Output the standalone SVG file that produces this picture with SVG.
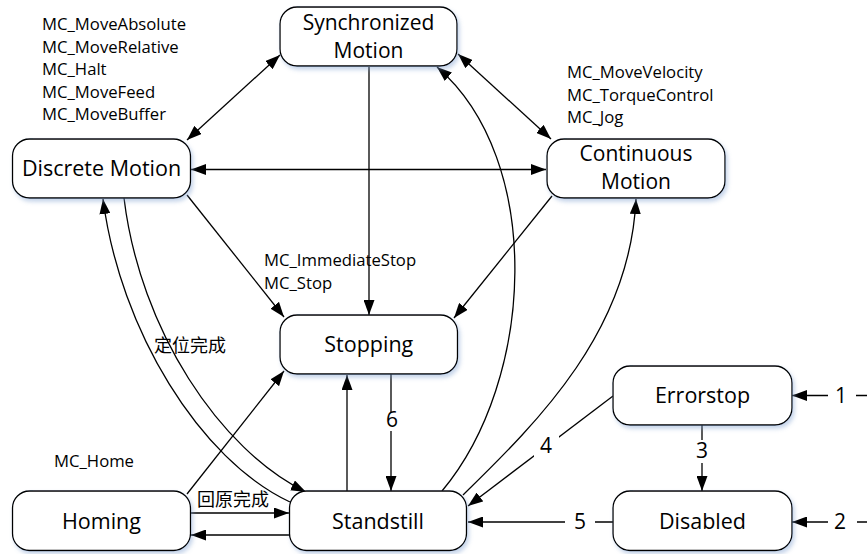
<svg xmlns="http://www.w3.org/2000/svg" width="867" height="554" viewBox="0 0 867 554">
<style>
.node rect{fill:#fff;stroke:#000;stroke-width:1.3;filter:url(#sh)}
.nt{font-family:"Open Sans","Noto Sans",sans-serif;font-size:21.5px;fill:#000;text-anchor:middle}
.nt2{font-size:21px}
.lb{font-family:"Open Sans","Noto Sans",sans-serif;font-size:16.7px;fill:#000}
.cj{font-family:"Noto Sans CJK SC",sans-serif;font-size:18px;fill:#000}
.num{font-family:"Open Sans","Noto Sans",sans-serif;font-size:21px;fill:#000;text-anchor:middle}
.c path{fill:none;stroke:#000;stroke-width:1.3}
.a{marker-end:url(#ah)}
.b{marker-start:url(#ah);marker-end:url(#ah)}
.gap{fill:#fff;stroke:none}
</style>
<defs>
<marker id="ah" viewBox="0 0 15 11" refX="15" refY="5.5" markerWidth="15" markerHeight="11" markerUnits="userSpaceOnUse" orient="auto-start-reverse"><path d="M0,0 L15,5.5 L0,11 z" fill="#000"/></marker>
<filter id="sh" x="-10%" y="-20%" width="125%" height="150%"><feDropShadow dx="2" dy="3" stdDeviation="2" flood-color="#7f9fcf" flood-opacity="0.45"/></filter>
</defs>
<rect width="867" height="554" fill="#fff"/>

<g id="connectors" class="c">
<path class="b" d="M187,140 L280,55"/>
<path class="b" d="M458,54 L551,139"/>
<path class="b" d="M191,169.5 L546,169.5"/>
<path class="a" d="M369,67 L369,315"/>
<path class="a" d="M442,491 C535,380 545,160 437,67"/>
<path class="a" d="M463,495 C540,420 630,330 636,199"/>
<path class="a" d="M187,195 L284,317"/>
<path class="a" d="M552,196 L454,318"/>
<path class="a" d="M187,494 L284,371"/>
<path class="a" d="M347,491 L347,375"/>
<path class="a" d="M391,374 L391,491"/>
<path class="a" d="M290,502 C200,460 120,330 103,199"/>
<path class="a" d="M124,198 C140,330 220,450 306,492"/>
<path class="a" d="M191,513 L289,513"/>
<path class="a" d="M289,535 L191,535"/>
<path class="a" d="M613,396 L468,506"/>
<path class="a" d="M613,522 L468,522"/>
<path class="a" d="M702,425 L702,491"/>
<path class="a" d="M867,395.5 L792,395.5"/>
<path class="a" d="M867,522 L792,522"/>
<rect class="gap" x="383" y="412" width="17" height="19"/>
<rect class="gap" x="534" y="435" width="25" height="24"/>
<rect class="gap" x="565" y="511" width="30" height="22"/>
<rect class="gap" x="693" y="440" width="18" height="23"/>
<rect class="gap" x="828" y="384" width="28" height="22"/>
<rect class="gap" x="828" y="511" width="29" height="22"/>
<text class="num" x="392" y="427">6</text>
<text class="num" x="546" y="453">4</text>
<text class="num" x="580" y="529">5</text>
<text class="num" x="702" y="458">3</text>
<text class="num" x="841" y="403">1</text>
<text class="num" x="840" y="529">2</text>
<text class="lb" x="42" y="30">MC_MoveAbsolute</text>
<text class="lb" x="42" y="52.5">MC_MoveRelative</text>
<text class="lb" x="42" y="75">MC_Halt</text>
<text class="lb" x="42" y="97.5">MC_MoveFeed</text>
<text class="lb" x="42" y="120">MC_MoveBuffer</text>
<text class="lb" x="567" y="78">MC_MoveVelocity</text>
<text class="lb" x="567" y="100.5">MC_TorqueControl</text>
<text class="lb" x="567" y="123">MC_Jog</text>
<text class="lb" x="264" y="266">MC_ImmediateStop</text>
<text class="lb" x="264" y="288.5">MC_Stop</text>
<text class="lb" x="54" y="467">MC_Home</text>
<text class="cj" x="154" y="352">定位完成</text>
<text class="cj" x="197" y="506">回原完成</text>
</g>

<g id="synchronized" class="node"><rect x="280" y="7" width="177" height="59" rx="17"/><text class="nt nt2" x="368.5" y="29.5">Synchronized</text><text class="nt nt2" x="368.5" y="58.3">Motion</text></g>
<g id="discrete" class="node"><rect x="12.5" y="139" width="178" height="59" rx="17"/><text class="nt" x="101.5" y="176">Discrete Motion</text></g>
<g id="continuous" class="node"><rect x="547" y="139" width="178" height="59" rx="17"/><text class="nt nt2" x="636" y="160.5">Continuous</text><text class="nt nt2" x="636" y="189.3">Motion</text></g>
<g id="stopping" class="node"><rect x="280" y="315" width="177.5" height="59" rx="17"/><text class="nt" x="368.8" y="352">Stopping</text></g>
<g id="homing" class="node"><rect x="12.5" y="491" width="178" height="59.5" rx="17"/><text class="nt" x="101.5" y="528.5">Homing</text></g>
<g id="standstill" class="node"><rect x="289.5" y="491" width="177" height="59.5" rx="17"/><text class="nt" x="378" y="528.5">Standstill</text></g>
<g id="errorstop" class="node"><rect x="613" y="366" width="179" height="59" rx="17"/><text class="nt" x="702.5" y="403">Errorstop</text></g>
<g id="disabled" class="node"><rect x="613" y="491" width="179" height="59.5" rx="17"/><text class="nt" x="702.5" y="528.5">Disabled</text></g>
</svg>
